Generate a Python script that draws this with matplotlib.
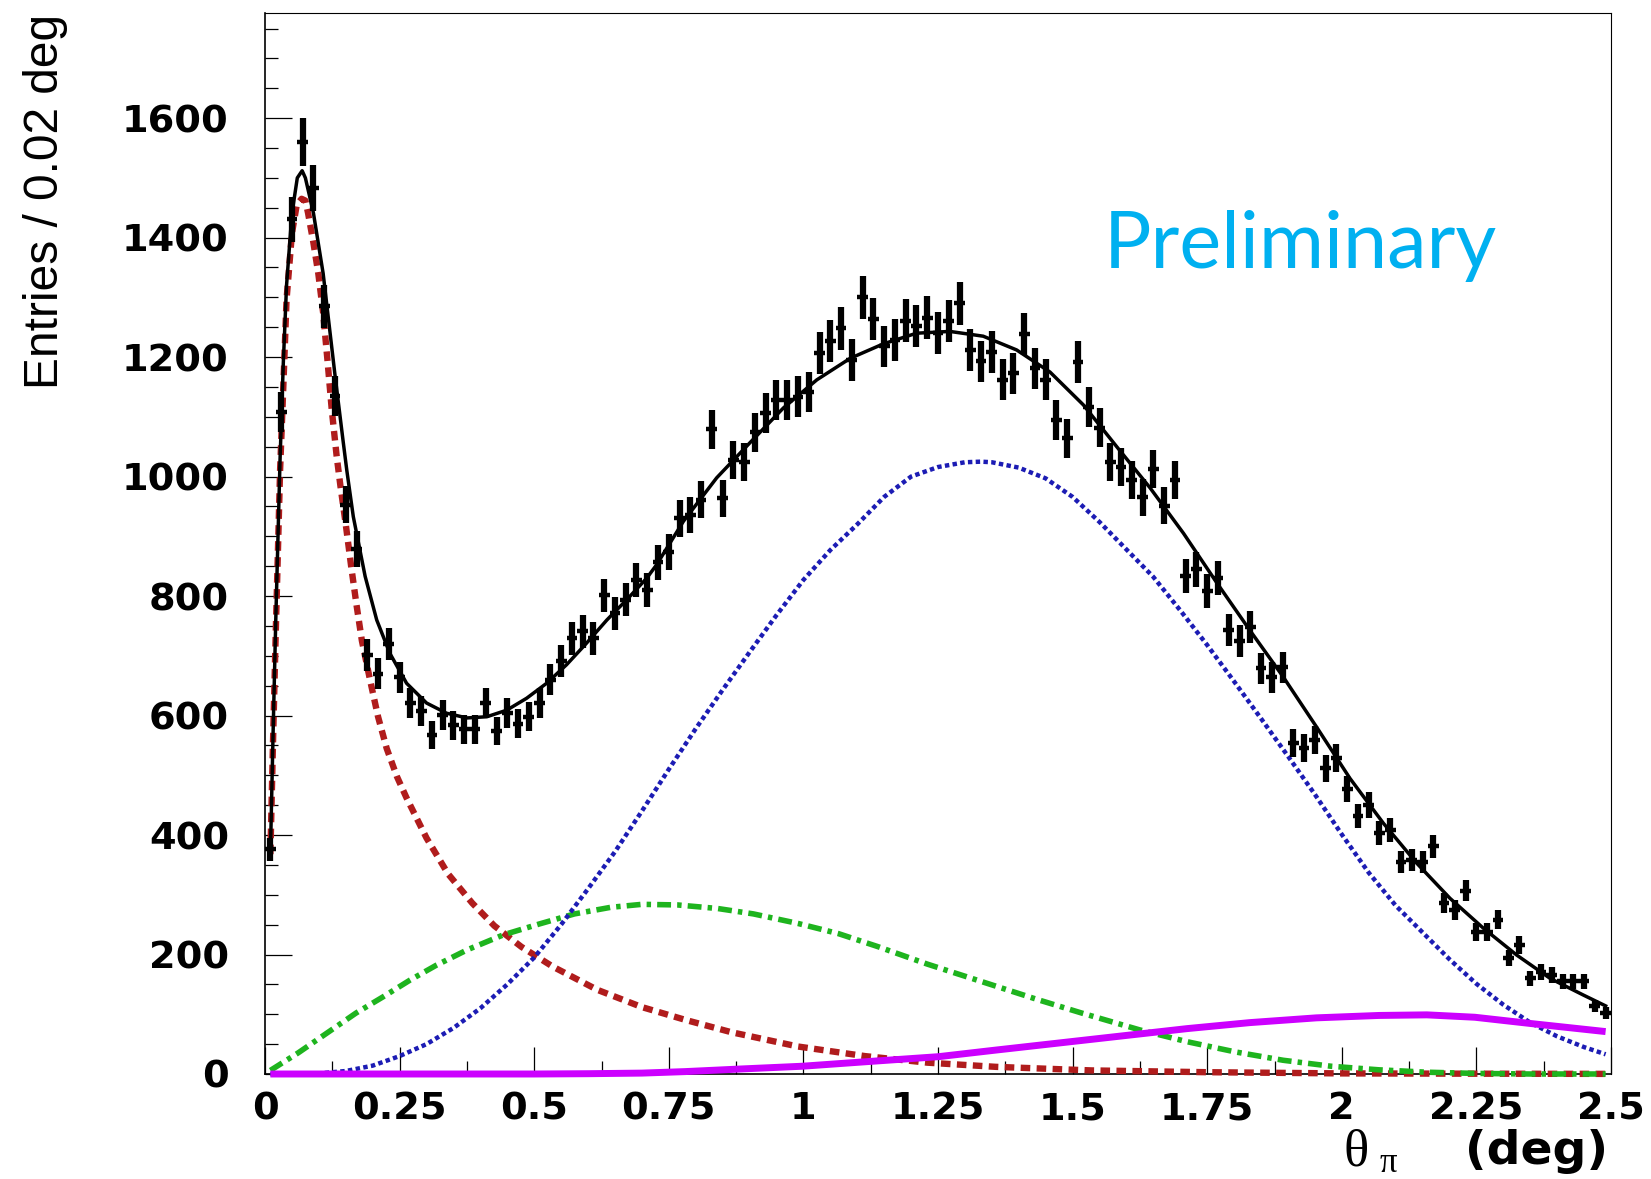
import numpy as np
import matplotlib
matplotlib.use("Agg")
import matplotlib.pyplot as plt
from matplotlib.ticker import FixedLocator, MultipleLocator

# ---------------- data ----------------
bin_width = 0.02
theta_bins = np.round(np.arange(0.01, 2.5, bin_width), 3)
entries = [376, 1108, 1431, 1560, 1483, 1285, 1135, 953, 879, 701,
           670, 720, 664, 621, 608, 567, 601, 584, 577, 577,
           621, 574, 604, 586, 598, 621, 660, 691, 729, 741,
           729, 801, 771, 794, 827, 810, 857, 874, 930, 936,
           961, 1079, 964, 1028, 1025, 1074, 1106, 1128, 1128, 1134,
           1142, 1207, 1227, 1248, 1195, 1300, 1264, 1218, 1229, 1261,
           1252, 1266, 1240, 1260, 1290, 1212, 1193, 1209, 1162, 1173,
           1239, 1181, 1162, 1095, 1064, 1192, 1117, 1082, 1024, 1016,
           994, 965, 1013, 951, 994, 834, 845, 809, 830, 743,
           725, 748, 679, 664, 681, 554, 545, 559, 512, 529,
           477, 432, 450, 404, 409, 355, 358, 355, 381, 286,
           275, 307, 238, 238, 258, 194, 216, 160, 171, 166,
           155, 155, 155, 114, 102]

# total fit (black solid)
total_x = [0.010, 0.015, 0.020, 0.028, 0.034, 0.040, 0.050, 0.060, 0.069, 0.075,
           0.090, 0.108, 0.130, 0.145, 0.152, 0.164, 0.186, 0.2075, 0.232, 0.263,
           0.300, 0.337, 0.375, 0.412, 0.449, 0.486, 0.523, 0.560, 0.597, 0.635,
           0.672, 0.709, 0.727, 0.777, 0.839, 0.900, 0.963, 1.025, 1.087, 1.148,
           1.210, 1.272, 1.334, 1.396, 1.458, 1.520, 1.582, 1.644, 1.706, 1.768,
           1.829, 1.891, 1.953, 2.015, 2.077, 2.139, 2.201, 2.263, 2.325, 2.387,
           2.449, 2.490]
total_y = [367, 570, 760, 1030, 1190, 1320, 1440, 1500, 1512, 1500,
           1441, 1340, 1170, 1060, 1010, 933, 833, 760, 704, 654,
           621, 604, 596, 598, 609, 629, 654, 685, 721, 760,
           794, 830, 852, 925, 998, 1056, 1115, 1162, 1198, 1222,
           1240, 1243, 1235, 1212, 1175, 1120, 1050, 981, 905, 822,
           743, 665, 581, 495, 420, 353, 294, 244, 199, 160,
           132, 114]

# red dashed component (narrow peak)
red_x = [0.010, 0.015, 0.020, 0.028, 0.034, 0.040, 0.050, 0.059, 0.068, 0.075,
         0.080, 0.090, 0.099, 0.108, 0.116, 0.124, 0.133, 0.140, 0.150, 0.160,
         0.170, 0.180, 0.195, 0.210, 0.226, 0.245, 0.263, 0.300, 0.340, 0.385,
         0.426, 0.476, 0.534, 0.617, 0.700, 0.783, 0.866, 0.990, 1.114, 1.230,
         1.357, 1.535, 1.750, 2.000, 2.250, 2.490]
red_y = [368, 560, 740, 1010, 1150, 1296, 1407, 1455, 1465, 1462,
         1441, 1391, 1340, 1274, 1195, 1112, 1035, 985, 920, 850,
         785, 725, 660, 598, 545, 498, 462, 395, 335, 286,
         248, 213, 180, 141, 112, 90, 70, 46, 30, 19,
         12, 6, 3, 1, 0.5, 0.2]

# blue dotted component (broad peak)
blue_x = [0.01, 0.06, 0.10, 0.15, 0.20, 0.25, 0.30, 0.35, 0.40, 0.45,
          0.50, 0.55, 0.60, 0.65, 0.70, 0.75, 0.80, 0.85, 0.90, 0.95,
          1.00, 1.05, 1.10, 1.15, 1.20, 1.25, 1.30, 1.33, 1.35, 1.40,
          1.45, 1.50, 1.55, 1.60, 1.65, 1.70, 1.75, 1.80, 1.85, 1.90,
          1.95, 2.00, 2.05, 2.10, 2.15, 2.20, 2.25, 2.30, 2.35, 2.40,
          2.45, 2.49]
blue_y = [0, 0.3, 1, 5, 14, 30, 50, 77, 110, 150,
          195, 250, 310, 372, 440, 510, 578, 643, 706, 768,
          827, 877, 920, 966, 1000, 1016, 1024, 1025, 1024, 1015,
          997, 966, 924, 878, 832, 776, 718, 657, 595, 532,
          468, 401, 337, 282, 237, 192, 151, 116, 86, 63,
          45, 33]

# green dash-dotted component
green_x = [0.010, 0.061, 0.119, 0.169, 0.219, 0.269, 0.318, 0.376, 0.443, 0.509,
           0.575, 0.642, 0.700, 0.766, 0.841, 0.907, 0.990, 1.065, 1.139, 1.230,
           1.437, 1.517, 1.624, 1.713, 1.802, 1.891, 1.980, 2.069, 2.158, 2.247,
           2.350, 2.490]
green_y = [6, 35, 71, 102, 129, 157, 182, 208, 233, 251,
           268, 279, 284, 283, 277, 268, 252, 235, 213, 184,
           124, 102, 74, 54, 37, 23, 13, 7, 3, 1,
           0, 0]

# magenta solid component
mag_x = [0.010, 0.500, 0.600, 0.700, 0.780, 0.874, 0.998, 1.123, 1.251, 1.357,
         1.535, 1.713, 1.829, 1.953, 2.069, 2.158, 2.247, 2.356, 2.490]
mag_y = [0, 0, 0.5, 1.5, 4, 8, 13, 21, 29, 40,
         58, 76, 86, 94, 98, 99, 95, 84, 71]

xticks = [0, 0.25, 0.5, 0.75, 1, 1.25, 1.5, 1.75, 2, 2.25, 2.5]
xtick_labels = ["0", "0.25", "0.5", "0.75", "1", "1.25", "1.5", "1.75", "2", "2.25", "2.5"]
yticks = [0, 200, 400, 600, 800, 1000, 1200, 1400, 1600]
ytick_labels = ["0", "200", "400", "600", "800", "1000", "1200", "1400", "1600"]

# ---------------- figure ----------------
W, H = 1651, 1179
fig = plt.figure(figsize=(W / 100, H / 100), dpi=100)
ax = fig.add_axes([265 / W, 1 - 1074 / H, (1611 - 265) / W, (1074 - 13) / H])
ax.set_xlim(0, 2.5)
ax.set_ylim(0, 1776)

# fit components
ax.plot(red_x, red_y, color="#b01c1c", lw=4.6, dashes=(1.5, 1.0), clip_on=False, zorder=3)
ax.plot(green_x, green_y, color="#1eb41e", lw=4.0, dashes=(2.5, 1.1, 0.8, 1.1), clip_on=False, zorder=3)
ax.plot(blue_x, blue_y, color="#1c1cb4", lw=3.2, dashes=(1.0, 0.75), clip_on=False, zorder=3)
ax.plot(mag_x, mag_y, color="#cc00ff", lw=5.0, solid_capstyle="butt", clip_on=False, zorder=3)
ax.plot(total_x, total_y, color="black", lw=2.5, zorder=4)

# data points with errors
yv = np.array(entries, dtype=float)
err = np.sqrt(yv)
ax.vlines(theta_bins, yv - err, yv + err, color="black", lw=4.5, zorder=5)
ax.hlines(yv, theta_bins - bin_width / 2, theta_bins + bin_width / 2, color="black", lw=3.2, zorder=5)

# axes styling (ROOT-like)
for s in ["left", "bottom"]:
    ax.spines[s].set_linewidth(1.2)
for s in ["top", "right"]:
    ax.spines[s].set_linewidth(0.8)

ax.xaxis.set_major_locator(FixedLocator(xticks))
ax.xaxis.set_minor_locator(MultipleLocator(0.125))
ax.yaxis.set_major_locator(FixedLocator(yticks))
ax.yaxis.set_minor_locator(MultipleLocator(50))
ax.set_xticklabels(xtick_labels)
ax.set_yticklabels(ytick_labels)
ax.tick_params(which="both", direction="in", top=False, right=False, width=0.9, color="black")
ax.tick_params(which="major", length=19.5)
ax.tick_params(which="minor", length=9.5)
ax.tick_params(axis="x", which="major", pad=12.5)
ax.tick_params(axis="y", which="major", pad=26)
for lab in ax.get_xticklabels() + ax.get_yticklabels():
    lab.set_fontfamily("DejaVu Sans")
    lab.set_fontweight("bold")
    lab.set_fontsize(27.5)

# axis titles
fig.text(46 / W, 1 - 14 / H, "Entries / 0.02 deg", rotation=90, ha="center", va="top",
         fontsize=34.5, family=["Liberation Sans", "DejaVu Sans"])
fig.text(1608 / W, 1 - 1164 / H, "(deg)", ha="right", va="baseline",
         fontsize=34, fontweight="bold", family="DejaVu Sans")
fig.text(1343 / W, 1 - 1165 / H, "θ", ha="left", va="baseline",
         fontsize=38, family=["Liberation Serif", "DejaVu Serif"])
fig.text(1380 / W, 1 - 1172 / H, "π", ha="left", va="baseline",
         fontsize=25, family=["Liberation Serif", "DejaVu Serif"])

# Preliminary label
fig.text(1104 / W, 1 - 268 / H, "Preliminary", ha="left", va="baseline",
         fontsize=57, color="#00b0f0", family=["Lato", "DejaVu Sans"])

fig.savefig("out.png", dpi=100)
